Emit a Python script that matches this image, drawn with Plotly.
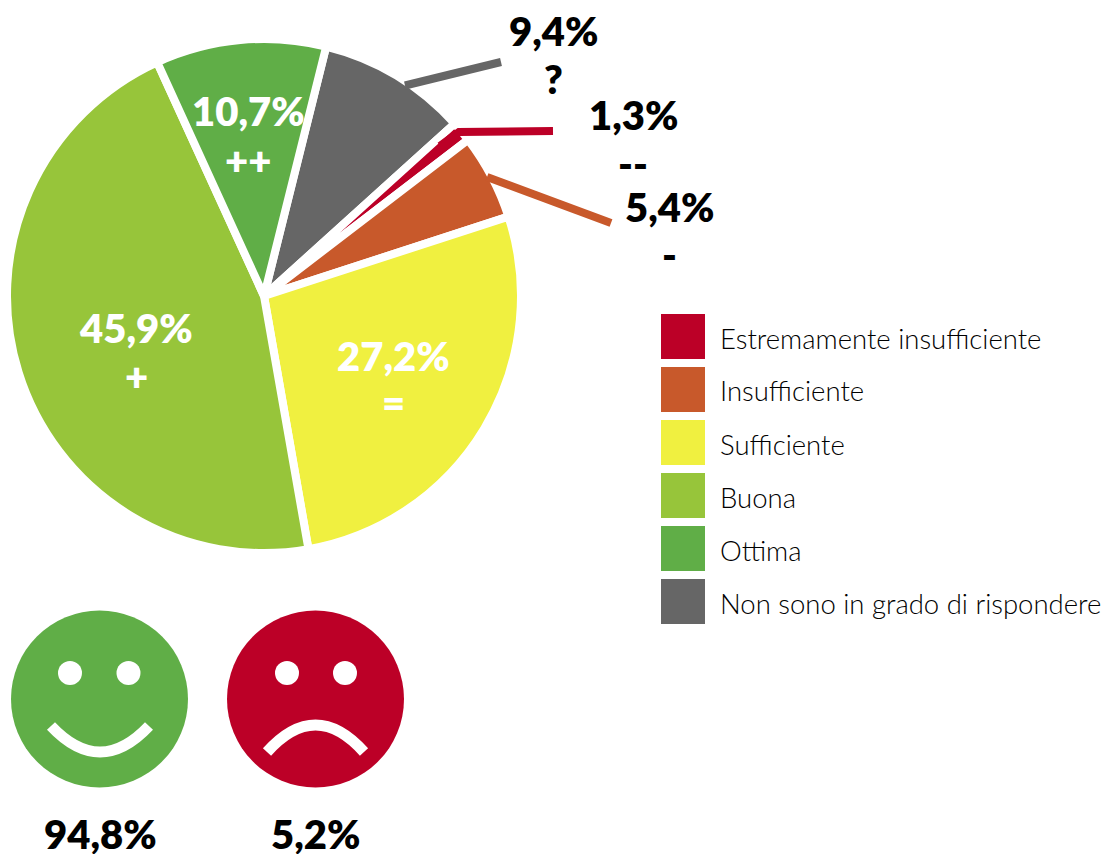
import plotly.graph_objects as go

W, H = 1112, 854

categories = ["Non sono in grado di rispondere", "Estremamente insufficiente", "Insufficiente",
              "Sufficiente", "Buona", "Ottima"]
values = [9.4, 1.3, 5.4, 27.2, 45.9, 10.7]
colors = ["#666666", "#BC0027", "#C8592B", "#F0F040", "#97C53A", "#60AE47"]

legend_order = ["Estremamente insufficiente", "Insufficiente", "Sufficiente", "Buona", "Ottima",
                "Non sono in grado di rispondere"]
legend_tops = [314, 367, 420, 473, 526, 579]

inside_labels = [("10,7%", "++", 248, 111, 160), ("45,9%", "+", 136, 328, 376), ("27,2%", "=", 393, 356, 403)]
outside_labels = [("9,4%", "?", 553, 31, 79), ("1,3%", "--", 633, 115, 164), ("5,4%", "-", 669, 207, 255)]
face_labels = [("94,8%", 100, 834), ("5,2%", 315, 834)]

def X(p): return p / W
def Y(p): return 1 - p / H
FONT_B = "Lato"

fig = go.Figure(go.Pie(
    labels=categories, values=values, sort=False, direction="clockwise", rotation=14,
    marker=dict(colors=colors, line=dict(color="white", width=8)),
    textinfo="none", hoverinfo="label+percent", showlegend=False,
    domain=dict(x=[X(7), X(521)], y=[Y(553), Y(39)]),
))

shapes, ann = [], []

def line(pts, color, width):
    shapes.append(dict(type="path", xref="paper", yref="paper",
                       path="M" + " L".join(f"{X(a):.5f},{Y(b):.5f}" for a, b in pts),
                       line=dict(color=color, width=width), layer="above"))

line([(405, 85.5), (501, 62)], "#666666", 8)
line([(440, 146), (459, 132), (553, 131)], "#BC0027", 8)
line([(487, 177), (611, 223)], "#C8592B", 8)

def circle(cx, cy, r, color):
    shapes.append(dict(type="circle", xref="paper", yref="paper", x0=X(cx - r), x1=X(cx + r),
                       y0=Y(cy + r), y1=Y(cy - r), fillcolor=color, line=dict(width=0), layer="above"))

def curve(a, c, b):
    shapes.append(dict(type="path", xref="paper", yref="paper",
                       path=f"M{X(a[0]):.5f},{Y(a[1]):.5f} Q{X(c[0]):.5f},{Y(c[1]):.5f} {X(b[0]):.5f},{Y(b[1]):.5f}",
                       line=dict(color="white", width=11), layer="above"))

circle(99.5, 699, 88.5, "#60AE47")
circle(70, 673, 12, "white"); circle(128.5, 673, 12, "white")
curve((51, 726), (100, 778), (149, 726))
circle(315.5, 699, 88.5, "#BC0027")
circle(287, 673, 12, "white"); circle(345, 673, 12, "white")
curve((267, 752), (315.5, 698), (364, 752))

color_of = dict(zip(categories, colors))
for name, top in zip(legend_order, legend_tops):
    shapes.append(dict(type="rect", xref="paper", yref="paper", x0=X(661), x1=X(705),
                       y0=Y(top + 45), y1=Y(top), fillcolor=color_of[name], line=dict(width=0), layer="above"))
    ann.append(dict(text=name, x=X(717.5), y=Y(top + 24), xref="paper", yref="paper", xanchor="left",
                    yanchor="middle", showarrow=False,
                    font=dict(family="Lato", size=27.5, weight=300, color="#000000")))

def label(t, x, y, color):
    ann.append(dict(text=t, x=X(x), y=Y(y), xref="paper", yref="paper", xanchor="center",
                    yanchor="middle", showarrow=False,
                    font=dict(family=FONT_B, size=40, weight=800, color=color)))

for a, b, x, y1, y2 in inside_labels:
    label(a, x, y1, "white"); label(b, x, y2, "white")
for a, b, x, y1, y2 in outside_labels:
    label(a, x, y1, "black"); label(b, x, y2, "black")
for a, x, y in face_labels:
    label(a, x, y, "black")

fig.update_layout(width=W, height=H, margin=dict(l=0, r=0, t=0, b=0), paper_bgcolor="white",
                  shapes=shapes, annotations=ann, showlegend=False)
fig.write_html("out.html", config=dict(displayModeBar=False),
               post_script="document.body.style.margin='0';")
